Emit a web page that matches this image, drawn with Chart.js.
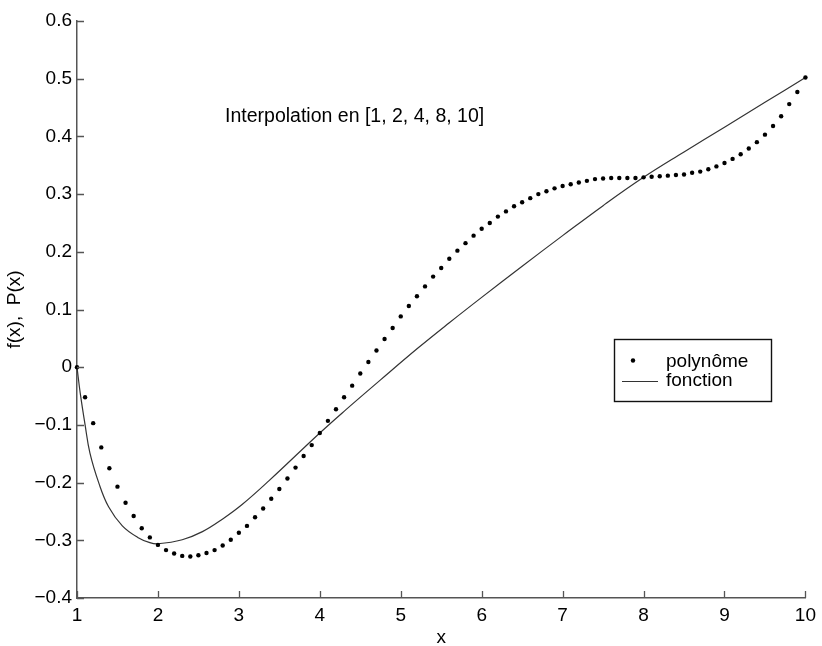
<!DOCTYPE html>
<html>
<head>
<meta charset="utf-8">
<title>Interpolation en [1, 2, 4, 8, 10]</title>
<script src="https://cdn.jsdelivr.net/npm/chart.js@4.4.1/dist/chart.umd.min.js"></script>
<style>
    html, body { margin: 0; padding: 0; background: #fff; }
    #wrap { width: 822px; height: 646px; position: relative; }
</style>
</head>
<body>
<div id="wrap"><canvas id="chart"></canvas></div>
<script>
// Values

// polynome: sampled every 0.1 on [1, 10]
const polyX = [
    1.0, 1.1, 1.2, 1.3, 1.4, 1.5, 1.6, 1.7, 1.8, 1.9,
    2.0, 2.1, 2.2, 2.3, 2.4, 2.5, 2.6, 2.7, 2.8, 2.9,
    3.0, 3.1, 3.2, 3.3, 3.4, 3.5, 3.6, 3.7, 3.8, 3.9,
    4.0, 4.1, 4.2, 4.3, 4.4, 4.5, 4.6, 4.7, 4.8, 4.9,
    5.0, 5.1, 5.2, 5.3, 5.4, 5.5, 5.6, 5.7, 5.8, 5.9,
    6.0, 6.1, 6.2, 6.3, 6.4, 6.5, 6.6, 6.7, 6.8, 6.9,
    7.0, 7.1, 7.2, 7.3, 7.4, 7.5, 7.6, 7.7, 7.8, 7.9,
    8.0, 8.1, 8.2, 8.3, 8.4, 8.5, 8.6, 8.7, 8.8, 8.9,
    9.0, 9.1, 9.2, 9.3, 9.4, 9.5, 9.6, 9.7, 9.8, 9.9,
    10.0
];
const polyY = [
    0.000, -0.052, -0.097, -0.139, -0.175, -0.207, -0.235, -0.258, -0.279, -0.295,
    -0.308, -0.317, -0.323, -0.327, -0.328, -0.326, -0.322, -0.317, -0.309, -0.299,
    -0.287, -0.275, -0.260, -0.245, -0.228, -0.211, -0.193, -0.174, -0.154, -0.135,
    -0.114, -0.093, -0.073, -0.052, -0.032, -0.011, 0.009, 0.029, 0.049, 0.068,
    0.088, 0.106, 0.123, 0.140, 0.157, 0.172, 0.188, 0.202, 0.215, 0.228,
    0.240, 0.250, 0.261, 0.270, 0.279, 0.286, 0.293, 0.300, 0.305, 0.310,
    0.314, 0.317, 0.320, 0.323, 0.326, 0.327, 0.328, 0.328, 0.328, 0.328,
    0.329, 0.330, 0.331, 0.332, 0.333, 0.334, 0.337, 0.339, 0.343, 0.348,
    0.354, 0.361, 0.369, 0.379, 0.390, 0.403, 0.418, 0.435, 0.456, 0.477,
    0.502
];

// fonction: points
const funcX = [1, 1.04, 1.1, 1.16, 1.27, 1.39, 1.56, 1.75, 1.9, 2, 2.3, 2.55, 2.8,
               3.04, 3.37, 4, 4.32, 4.75, 5.22, 5.6, 6, 6.5, 7, 7.5, 8, 8.5, 9, 9.5, 10];
const funcY = [0, -0.045, -0.100, -0.149, -0.201, -0.242, -0.275, -0.295, -0.304,
               -0.306, -0.299, -0.285, -0.263, -0.238, -0.197, -0.114, -0.074, -0.022,
               0.034, 0.077, 0.121, 0.175, 0.228, 0.280, 0.329, 0.373, 0.416, 0.459, 0.502];

const xTicks = [1, 2, 3, 4, 5, 6, 7, 8, 9, 10];
const yTicks = [-0.4, -0.3, -0.2, -0.1, 0, 0.1, 0.2, 0.3, 0.4, 0.5, 0.6];

const seriesLabels = ['polynôme', 'fonction'];
const annotationText = 'Interpolation en [1, 2, 4, 8, 10]';

const FONT = '"Liberation Sans", Arial, Helvetica, sans-serif';
const AXIS_COLOR = '#555';

function formatY(v) {
    const r = Math.round(v * 10) / 10;
    if (r === 0) return '0';
    return r.toFixed(1).replace('-', '\u2212');
}

// inward tick marks on the two axes
const inwardTicks = {
    id: 'inwardTicks',
    afterDraw(chart) {
        const ctx = chart.ctx;
        const xs = chart.scales.x, ys = chart.scales.y;
        const area = chart.chartArea;
        ctx.save();
        ctx.strokeStyle = AXIS_COLOR;
        ctx.lineWidth = 1.3;
        ctx.beginPath();
        xTicks.forEach(t => {
            const px = Math.round(xs.getPixelForValue(t)) + 0.5;
            ctx.moveTo(px, area.bottom);
            ctx.lineTo(px, area.bottom - 7);
        });
        yTicks.forEach(t => {
            const py = Math.round(ys.getPixelForValue(t)) + 0.5;
            ctx.moveTo(area.left, py);
            ctx.lineTo(area.left + 7, py);
        });
        ctx.stroke();
        ctx.restore();
    }
};

// text label and boxed legend drawn inside the plot
const insideText = {
    id: 'insideText',
    afterDraw(chart) {
        const ctx = chart.ctx;
        const xs = chart.scales.x, ys = chart.scales.y;
        ctx.save();
        ctx.fillStyle = '#000';
        ctx.font = '19.5px ' + FONT;
        ctx.textAlign = 'center';
        ctx.textBaseline = 'middle';
        ctx.fillText(annotationText, xs.getPixelForValue(4.43), ys.getPixelForValue(0.434));

        // legend box
        const bx = 614.5, by = 339.5, bw = 157, bh = 62;
        ctx.fillStyle = '#fff';
        ctx.fillRect(bx, by, bw, bh);
        ctx.strokeStyle = '#111';
        ctx.lineWidth = 1.4;
        ctx.strokeRect(bx, by, bw, bh);

        ctx.fillStyle = '#000';
        ctx.beginPath();
        ctx.arc(633, 360.5, 2.2, 0, Math.PI * 2);
        ctx.fill();

        ctx.strokeStyle = '#333';
        ctx.lineWidth = 1.2;
        ctx.beginPath();
        ctx.moveTo(622, 381.5);
        ctx.lineTo(658, 381.5);
        ctx.stroke();

        ctx.font = '19px ' + FONT;
        ctx.textAlign = 'left';
        ctx.fillText(seriesLabels[0], 666, 362);
        ctx.fillText(seriesLabels[1], 666, 381);
        ctx.restore();
    }
};

const ctx = document.getElementById('chart');

new Chart(ctx, {
    type: 'scatter',
    data: {
        datasets: [{
            label: seriesLabels[0],
            data: polyX.map((x, i) => ({ x: x, y: polyY[i] })),
            showLine: false,
            pointRadius: 2.2,
            pointHoverRadius: 2.2,
            pointBackgroundColor: '#000',
            pointBorderWidth: 0,
            clip: false
        }, {
            label: seriesLabels[1],
            data: funcX.map((x, i) => ({ x: x, y: funcY[i] })),
            showLine: true,
            borderColor: '#333',
            borderWidth: 1.2,
            pointRadius: 0,
            tension: 0.4,
            clip: false
        }]
    },
    options: {
        responsive: true,
        maintainAspectRatio: false,
        animation: false,
        layout: { padding: { top: 21, right: 14, left: 0, bottom: 0 } },
        plugins: {
            legend: { display: false },
            tooltip: { enabled: false }
        },
        scales: {
            x: {
                type: 'linear',
                min: 1,
                max: 10,
                afterBuildTicks: scale => { scale.ticks = xTicks.map(v => ({ value: v })); },
                afterFit: scale => { scale.height = 48; },
                ticks: {
                    color: '#000',
                    font: { family: FONT, size: 19 },
                    padding: 6,
                    callback: v => String(v)
                },
                grid: { display: true, drawOnChartArea: false, drawTicks: false },
                border: { display: true, color: AXIS_COLOR, width: 1.5 },
                title: {
                    display: true,
                    text: 'x',
                    color: '#000',
                    font: { family: FONT, size: 19 },
                    padding: { top: 0, bottom: -3 }
                }
            },
            y: {
                type: 'linear',
                min: -0.4,
                max: 0.6,
                afterBuildTicks: scale => { scale.ticks = yTicks.map(v => ({ value: v })); },
                afterFit: scale => { scale.width = 77; },
                ticks: {
                    color: '#000',
                    font: { family: FONT, size: 19 },
                    padding: 5,
                    callback: v => formatY(v)
                },
                grid: { display: true, drawOnChartArea: false, drawTicks: false },
                border: { display: true, color: AXIS_COLOR, width: 1.5 },
                title: {
                    display: true,
                    text: 'f(x),  P(x)',
                    color: '#000',
                    font: { family: FONT, size: 19 },
                    padding: { top: 3, bottom: 0 }
                }
            }
        }
    },
    plugins: [inwardTicks, insideText]
});
</script>
</body>
</html>
